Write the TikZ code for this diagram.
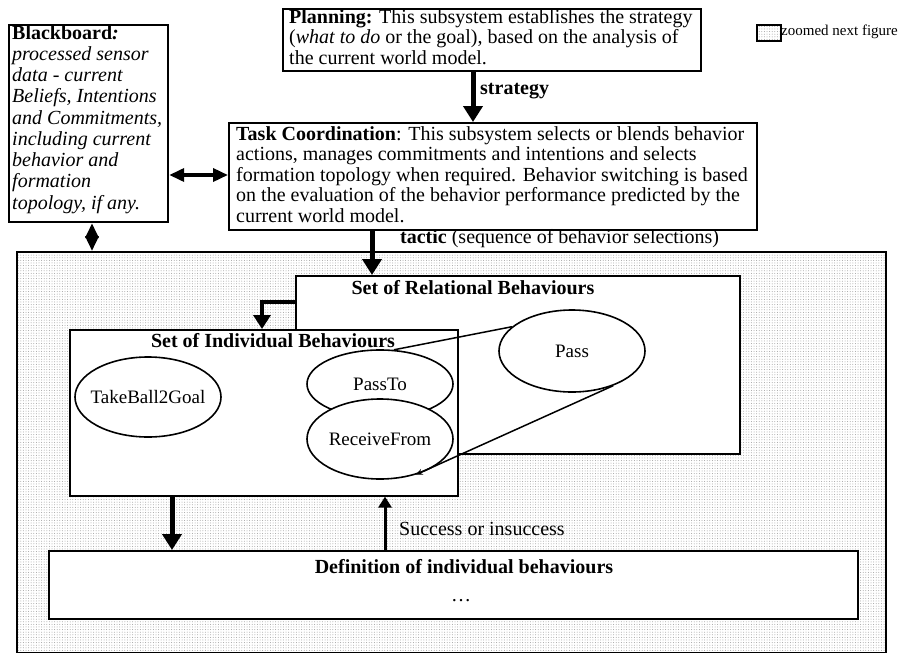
\documentclass[tikz,border=0pt]{standalone}
\usepackage{fontspec}
\setmainfont{Liberation Serif}
\usetikzlibrary{arrows.meta,patterns.meta,shapes.geometric}
\newcommand{\mainsize}{\fontsize{20}{20.5}\selectfont}
\newcommand{\ovalsize}{\fontsize{19}{20}\selectfont}
\newcommand{\keysize}{\fontsize{15}{17}\selectfont}
\begin{document}
\begin{tikzpicture}[x=1pt,y=-1pt,
  boxframe/.style={draw, line width=2.2pt, fill=white, inner sep=0pt, anchor=north west},
  setframe/.style={draw, line width=1.6pt, fill=white, inner sep=0pt, anchor=north west},
  dotarea/.style={draw, line width=2pt, inner sep=0pt, anchor=north west,
    pattern={Dots[distance=2.6pt,radius=0.5pt]}, pattern color=black!38},
  txt/.style={inner sep=0pt, anchor=north west, align=left, font=\mainsize},
  caption/.style={inner sep=0pt, font=\mainsize},
  oval/.style={draw, ellipse, line width=1.6pt, fill=white, inner xsep=-12pt, inner ysep=0pt, font=\ovalsize},
  flow/.style={line width=5pt, -{Triangle[width=19pt,length=16pt]}},
  midflow/.style={line width=4.5pt, -{Triangle[width=17pt,length=14pt]}},
  thinflow/.style={line width=3pt, -{Triangle[width=13pt,length=11pt]}},
  twoway/.style={line width=3.5pt, {Triangle[width=13pt,length=15pt]}-{Triangle[width=13pt,length=15pt]}},
  zoomline/.style={line width=1.5pt},
]
\useasboundingbox (0,0) rectangle (902,653);

% zoomed region with its dotted background
\node[dotarea, minimum width=869pt, minimum height=401pt] (zoomarea) at (16,251) {};

% key at the top right
\node[dotarea, line width=1.6pt, minimum width=24pt, minimum height=16pt] (keybox) at (756,24) {};
\node[inner sep=0pt, anchor=west, font=\keysize] (keytext) at (781,32) {zoomed next figure};

% blackboard
\node[boxframe, minimum width=159pt, minimum height=197pt] (bb) at (8,24) {};
\node[txt, font=\fontsize{20}{21.25}\selectfont] (bbtext) at (12,25) {\textbf{Blackboard\textit{:}}\\
\textit{processed sensor}\\
\textit{data - current}\\
\textit{Beliefs, Intentions}\\
\textit{and Commitments,}\\
\textit{including current}\\
\textit{behavior and}\\
\textit{formation}\\
\textit{topology, if any.}};

% planning
\node[boxframe, minimum width=418pt, minimum height=62pt] (plan) at (282,8) {};
\node[txt] (plantext) at (289,9) {\textbf{Planning:} This subsystem establishes the strategy\\
(\textit{what to do} or the goal), based on the analysis of\\
the current world model.};

% task coordination
\node[boxframe, minimum width=528pt, minimum height=107pt] (task) at (228,122) {};
\node[txt] (tasktext) at (236,126) {\textbf{Task Coordination}: This subsystem selects or blends behavior\\
actions, manages commitments and intentions and selects\\
formation topology when required. Behavior switching is based\\
on the evaluation of the behavior performance predicted by the\\
current world model.};

% sets of behaviours
\node[setframe, minimum width=444pt, minimum height=178pt] (rel) at (295,275) {};
\node[caption] (reltitle) at (473,288) {\textbf{Set of Relational Behaviours}};
\node[setframe, minimum width=388pt, minimum height=166pt] (ind) at (69,329) {};
\node[caption] (indtitle) at (273,341) {\textbf{Set of Individual Behaviours}};

\node[oval, minimum width=146pt, minimum height=80pt] (tb) at (148,397) {TakeBall2Goal};
\node[oval, minimum width=146pt, minimum height=68pt] (passto) at (380,384) {PassTo};
\node[oval, minimum width=146pt, minimum height=80pt] (recv) at (380,439) {ReceiveFrom};
\node[oval, minimum width=146pt, minimum height=82pt] (pass) at (572,351) {Pass};

% definition of individual behaviours
\node[boxframe, minimum width=809pt, minimum height=68pt] (def) at (48,550) {};
\node[caption] (deftitle) at (464,567) {\textbf{Definition of individual behaviours}};
\node[caption] (defdots) at (461,601) {\ldots};

% x and y positions of the connectors
\coordinate (xs) at (473,0);
\coordinate (xt) at (372,0);
\coordinate (xe) at (262,0);
\coordinate (xd) at (172,0);
\coordinate (xu) at (385,0);
\coordinate (xv) at (92,0);
\coordinate (yh) at (0,175);
\coordinate (ye) at (0,302);

% connectors
\draw[flow] (plan.south -| xs) -- (task.north -| xs);
\node[caption, anchor=west] (stratlabel) at (480,91) {\textbf{strategy}};

\draw[flow] (task.south -| xt) -- (rel.north -| xt);
\node[caption, anchor=west] (tacticlabel) at (400,239) {\textbf{tactic} (sequence of behavior selections)};

\draw[midflow] (rel.west |- ye) -| (ind.north -| xe);

\draw[twoway] (bb.east |- yh) -- (task.west |- yh);
\draw[twoway] (bb.south -| xv) -- (zoomarea.north -| xv);

\draw[flow] (ind.south -| xd) -- (def.north -| xd);
\draw[thinflow] (def.north -| xu) -- (ind.south -| xu);
\node[caption, anchor=west] (successlabel) at (399,529) {Success or insuccess};

\draw[zoomline] (pass.158) -- (passto.68);
\draw[zoomline, -{Stealth[width=6pt,length=7pt]}] (pass.-40) -- (recv.-45);
\end{tikzpicture}
\end{document}
